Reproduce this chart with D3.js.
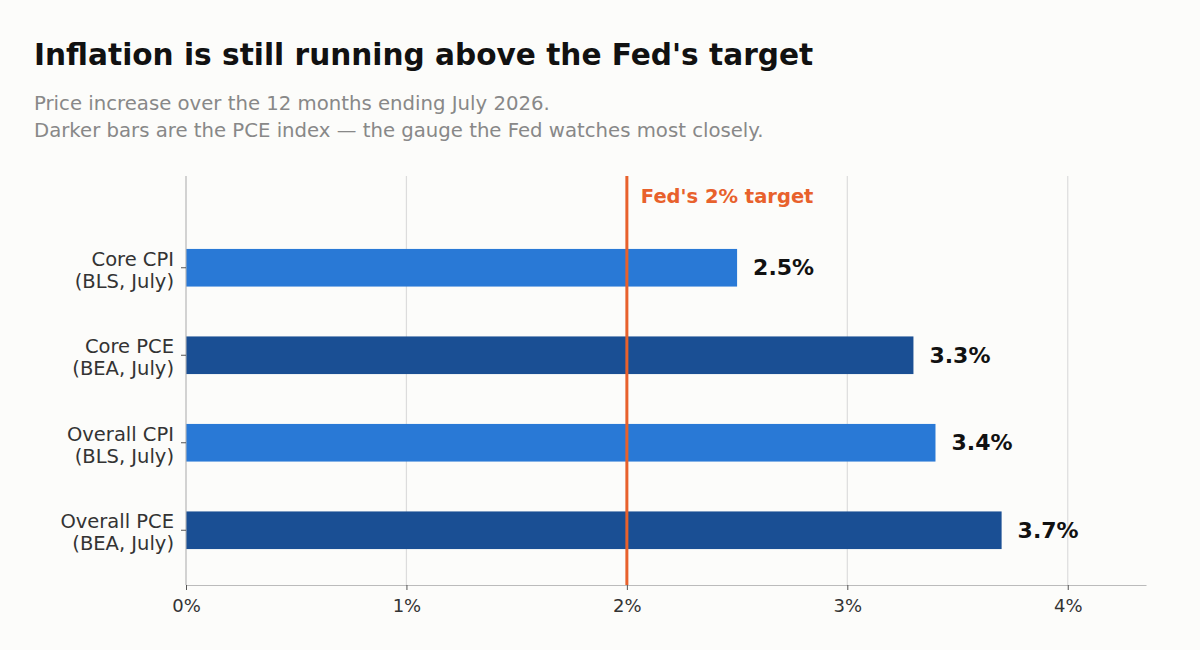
<!DOCTYPE html>
<html>
<head>
<meta charset="utf-8">
<script src="https://cdn.jsdelivr.net/npm/d3@7"></script>
<style>
  body { margin: 0; background: #fcfcfa; }
  svg text { font-family: "DejaVu Sans", sans-serif; }
</style>
</head>
<body>
<svg id="chart" width="1200" height="650"></svg>
<script>
// Data
const categories = ["Core CPI\n(BLS, July)", "Core PCE\n(BEA, July)", "Overall CPI\n(BLS, July)", "Overall PCE\n(BEA, July)"];
const values = [2.5, 3.3, 3.4, 3.7];
const isPCE = [false, true, false, true];
const xTicks = [0, 1, 2, 3, 4];
const target = 2;

const plotLeft = 186, plotRight = 1146, plotTop = 176, plotBottom = 585;
const svg = d3.select("#chart");
svg.append("rect").attr("width", 1200).attr("height", 650).attr("fill", "#fcfcfa");

// Title and subtitle
svg.append("text").attr("x", 34).attr("y", 65)
  .style("font-size", "29.6px").style("font-weight", "bold").attr("fill", "#111")
  .text("Inflation is still running above the Fed's target");
svg.append("text").attr("x", 34).attr("y", 110).style("font-size", "19.7px").attr("fill", "#888")
  .text("Price increase over the 12 months ending July 2026.");
svg.append("text").attr("x", 34).attr("y", 137).style("font-size", "19.7px").attr("fill", "#888")
  .text("Darker bars are the PCE index \u2014 the gauge the Fed watches most closely.");

// Scales
const x = d3.scaleLinear().domain([0, 4.355]).range([plotLeft, plotRight]);
const y = d3.scaleBand().domain(categories).range([224, 574]).paddingInner(0.57).paddingOuter(0.285);

// Gridlines
svg.append("g").selectAll("line").data(xTicks).enter().append("line")
  .attr("x1", d => x(d)).attr("x2", d => x(d)).attr("y1", plotTop).attr("y2", plotBottom)
  .attr("stroke", "#dcdcdc").attr("stroke-width", 1.2);

// Bars
svg.append("g").selectAll("rect").data(values).enter().append("rect")
  .attr("x", x(0)).attr("y", (d, i) => y(categories[i]))
  .attr("width", d => x(d) - x(0)).attr("height", y.bandwidth())
  .attr("fill", (d, i) => isPCE[i] ? "#1a4f94" : "#2979d6");

// Value labels
svg.append("g").selectAll("text").data(values).enter().append("text")
  .attr("x", d => x(d) + 16).attr("y", (d, i) => y(categories[i]) + y.bandwidth() / 2)
  .attr("dy", "0.35em").style("font-size", "22px").style("font-weight", "bold").attr("fill", "#111")
  .text(d => d.toFixed(1) + "%");

// Target line
svg.append("line").attr("x1", x(target)).attr("x2", x(target)).attr("y1", plotTop).attr("y2", plotBottom)
  .attr("stroke", "#e8612c").attr("stroke-width", 3);
svg.append("text").attr("x", x(target) + 14).attr("y", 203)
  .style("font-size", "19.5px").style("font-weight", "bold").attr("fill", "#e8612c")
  .text("Fed's 2% target");

// Axes
const xAxis = svg.append("g").attr("transform", `translate(0,${plotBottom})`)
  .call(d3.axisBottom(x).tickValues(xTicks).tickFormat(d => d + "%").tickSize(5).tickSizeOuter(0));
xAxis.select(".domain").attr("stroke", "#bbb");
xAxis.selectAll(".tick line").attr("stroke", "#555");
xAxis.selectAll("text").style("font-size", "18px").attr("fill", "#333").attr("dy", "1.05em");

svg.append("line").attr("x1", plotLeft).attr("x2", plotLeft).attr("y1", plotTop).attr("y2", plotBottom).attr("stroke", "#bbb");

const yAxis = svg.append("g").attr("transform", `translate(${plotLeft},0)`)
  .call(d3.axisLeft(y).tickSize(5).tickSizeOuter(0).tickFormat(""));
yAxis.select(".domain").remove();
yAxis.selectAll(".tick line").attr("stroke", "#555");
yAxis.selectAll(".tick").each(function(d) {
  const lines = d.split("\n");
  const t = d3.select(this).append("text").attr("x", -12).attr("text-anchor", "end")
    .style("font-size", "19.5px").attr("fill", "#333");
  lines.forEach((l, i) => t.append("tspan").attr("x", -12).attr("y", i === 0 ? -2 : 20).text(l));
});
</script>
</body>
</html>
